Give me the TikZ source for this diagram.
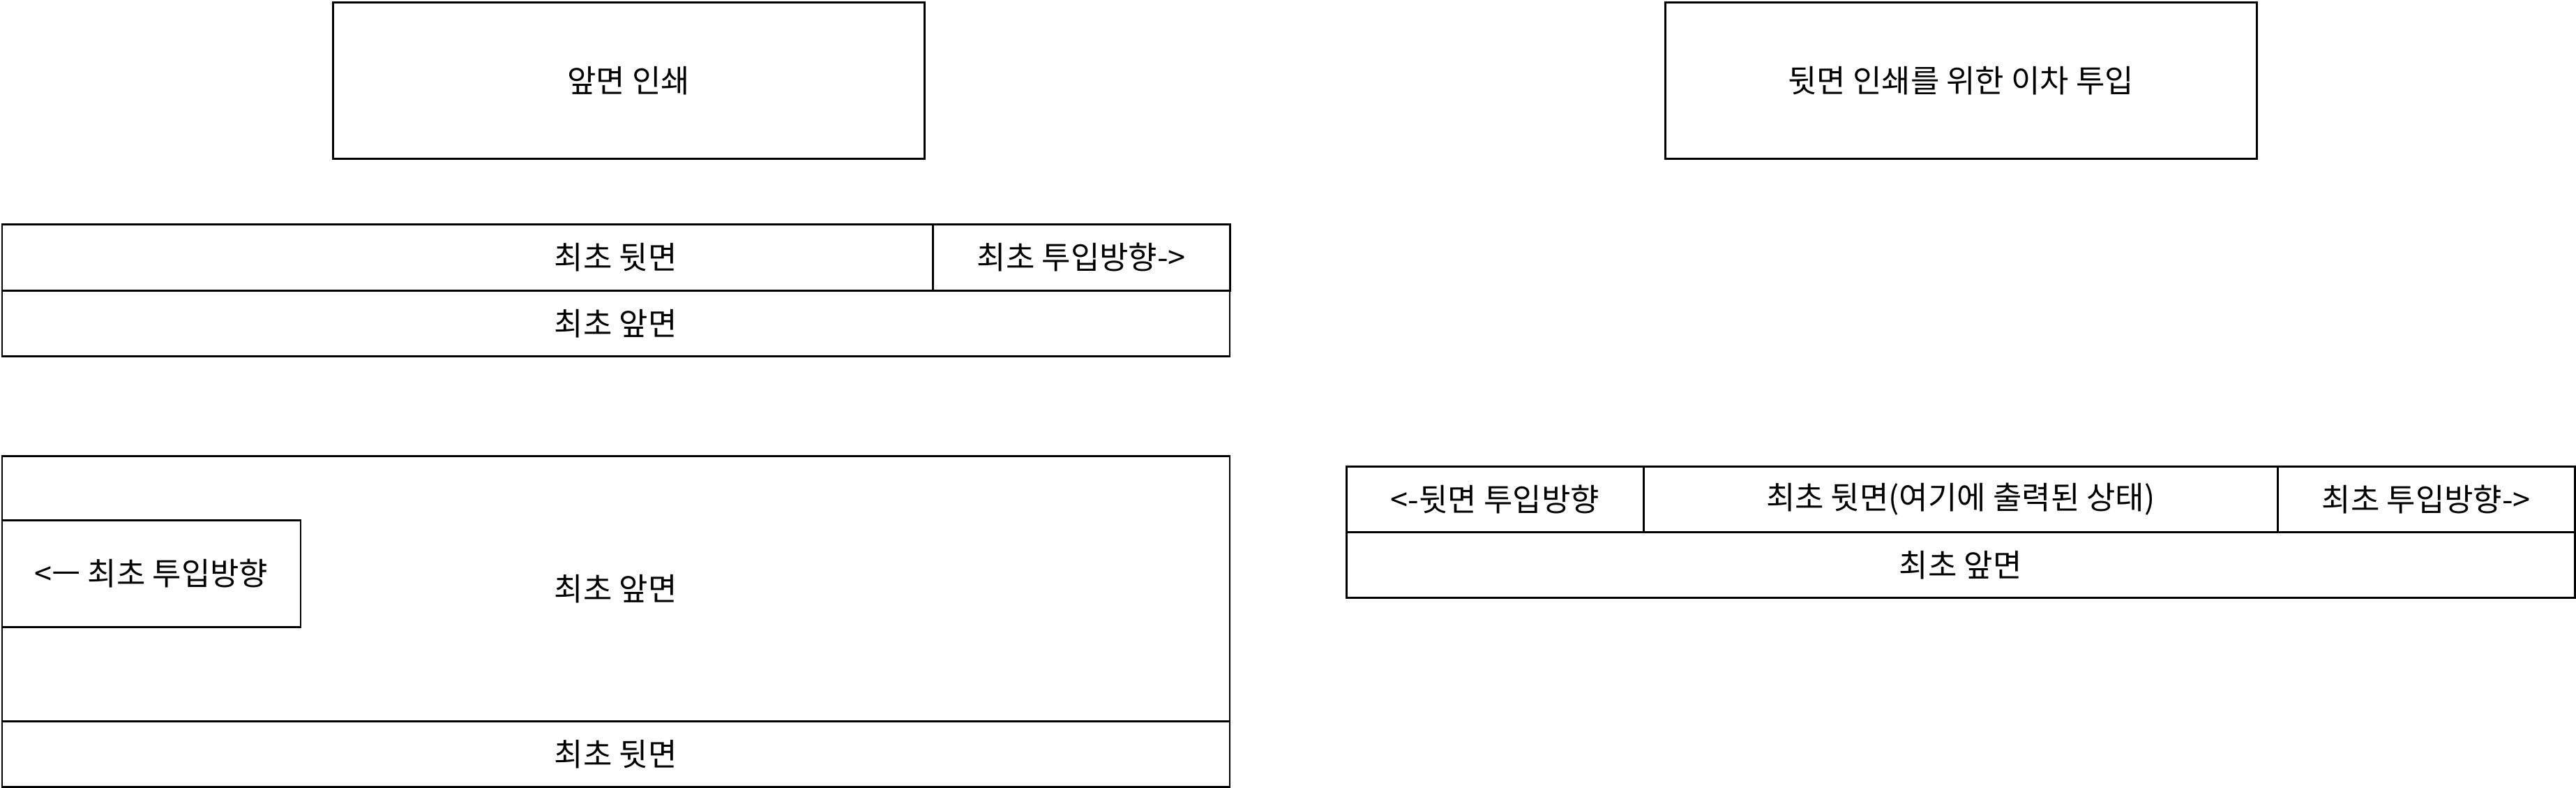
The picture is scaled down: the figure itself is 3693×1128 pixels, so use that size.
\documentclass[tikz,border=0pt]{standalone}
\usepackage{fontspec}
\setmainfont{Noto Sans CJK KR}
\begin{document}
\begin{tikzpicture}[x=1pt,y=-1pt,
  cell/.style={draw=black, line width=2.5pt, rectangle, inner sep=0pt, anchor=north west,
     font=\fontsize{45}{54}\selectfont},
  label/.style={inner sep=0pt, font=\fontsize{45}{54}\selectfont}]
\useasboundingbox (0,0) rectangle (3693,1128);
% top boxes
\node[cell, minimum width=848pt, minimum height=224pt] (p1) at (476,2) {앞면 인쇄};
\node[cell, minimum width=848pt, minimum height=224pt] (p2) at (2386,2) {뒷면 인쇄를 위한 이차 투입};
% first group
\node[cell, minimum width=1760pt, minimum height=95pt] (r1) at (1.5,320) {최초 뒷면};
\node[cell, minimum width=426pt, minimum height=95pt] (r1b) at (1336,320) {최초 투입방향->};
\node[cell, minimum width=1760pt, minimum height=94pt] (r2) at (1.5,415) {최초 앞면};
% second group
\node[cell, minimum width=1760pt, minimum height=380pt] (big) at (1.5,652) {};
\node[label] (bigt) at (big.center) {최초 앞면};
\node[cell, minimum width=428pt, minimum height=153pt] (inner) at (1.5,744) {<ㅡ 최초 투입방향};
\node[cell, minimum width=1760pt, minimum height=94pt] (bot) at (1.5,1032) {최초 뒷면};
% right group
\node[cell, minimum width=1761pt, minimum height=94pt] (s1) at (1929,667) {};
\node[cell, minimum width=426pt, minimum height=94pt] (s1a) at (1929,667) {<-뒷면 투입방향};
\node[cell, minimum width=909pt, minimum height=94pt] (s1b) at (2355,667) {최초 뒷면(여기에 출력된 상태)};
\node[cell, minimum width=426pt, minimum height=94pt] (s1c) at (3264,667) {최초 투입방향->};
\node[cell, minimum width=1761pt, minimum height=94pt] (s2) at (1929,761) {최초 앞면};
\end{tikzpicture}
\end{document}
